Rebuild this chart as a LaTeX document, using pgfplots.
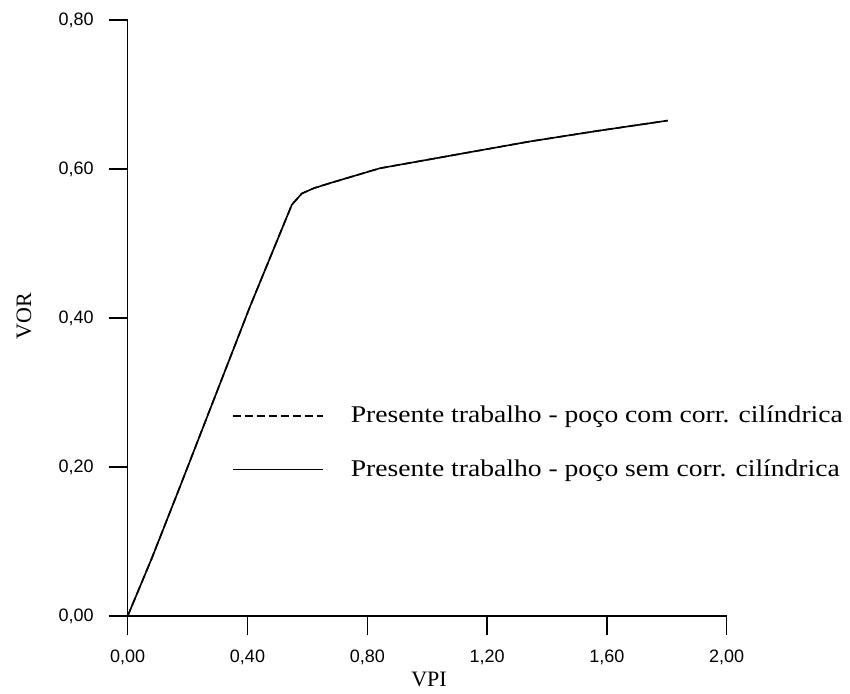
\documentclass[border=0pt]{standalone}
\usepackage{fontspec}
\setmainfont{Liberation Serif}
\newfontfamily\arial{Liberation Sans}
\newfontfamily\legfont[FakeStretch=1.15]{Liberation Serif}
\usepackage{pgfplots}
\pgfplotsset{compat=1.18}

\begin{document}
\begin{tikzpicture}
\begin{axis}[
    scale only axis,
    width=299.5pt, height=298pt,
    xmin=0, xmax=2, ymin=0, ymax=0.8,
    axis lines*=left,
    axis line style={line width=0.7pt},
    tick align=outside,
    major tick length=9.5pt,
    tick style={line width=0.7pt, black},
    xtick={0,0.4,...,2.0}, ytick={0,0.2,...,0.8},
    minor tick num=0,
    tick label style={font=\arial\fontsize{9}{10}\selectfont},
    xticklabel style={yshift=-4pt},
    yticklabel style={xshift=-4pt},
    /pgf/number format/.cd, fixed, fixed zerofill, precision=2, use comma, assume math mode=true,
    /pgfplots/.cd,
    xlabel={VPI}, ylabel={VOR},
    label style={font=\fontsize{11}{12}\selectfont},
    x label style={at={(axis description cs:0.503,-0.1057)}, anchor=center},
    y label style={at={(axis description cs:-0.1731,0.503)}, anchor=center},
    legend image code/.code={\draw[#1] (0pt,0pt) -- (45pt,0pt); \path[draw=none] (0pt,0pt) -- (57pt,0pt);},
    legend style={draw=none, fill=none, at={(axis cs:0.327,0.2325)}, anchor=west,
        font=\legfont\fontsize{12}{13}\selectfont, row sep=13pt},
    legend cell align=left,
]
\coordinate (O) at (axis cs:0,0);
\addplot[black, line width=0.8pt, dash pattern=on 4pt off 2pt] coordinates {
    (0,0) (0.08,0.077) (0.175,0.174) (0.291,0.294) (0.408,0.415) (0.548,0.552)
    (0.581,0.567) (0.62,0.574) (0.675,0.581) (0.842,0.601) (1.009,0.613)
    (1.176,0.625) (1.343,0.637) (1.566,0.651) (1.803,0.665)
};
\addlegendentry{Presente trabalho - poço com corr. cilíndrica}
\addplot[black, line width=0.8pt] coordinates {
    (0,0) (0.08,0.077) (0.175,0.174) (0.291,0.294) (0.408,0.415) (0.548,0.552)
    (0.581,0.567) (0.62,0.574) (0.675,0.581) (0.842,0.601) (1.009,0.613)
    (1.176,0.625) (1.343,0.637) (1.566,0.651) (1.803,0.665)
};
\addlegendentry{Presente trabalho - poço sem corr. cilíndrica}
\end{axis}
\pgfresetboundingbox
\path (O) ++(-63.85pt,-38.5pt) rectangle ++(425pt,346.5pt);
\end{tikzpicture}
\end{document}
